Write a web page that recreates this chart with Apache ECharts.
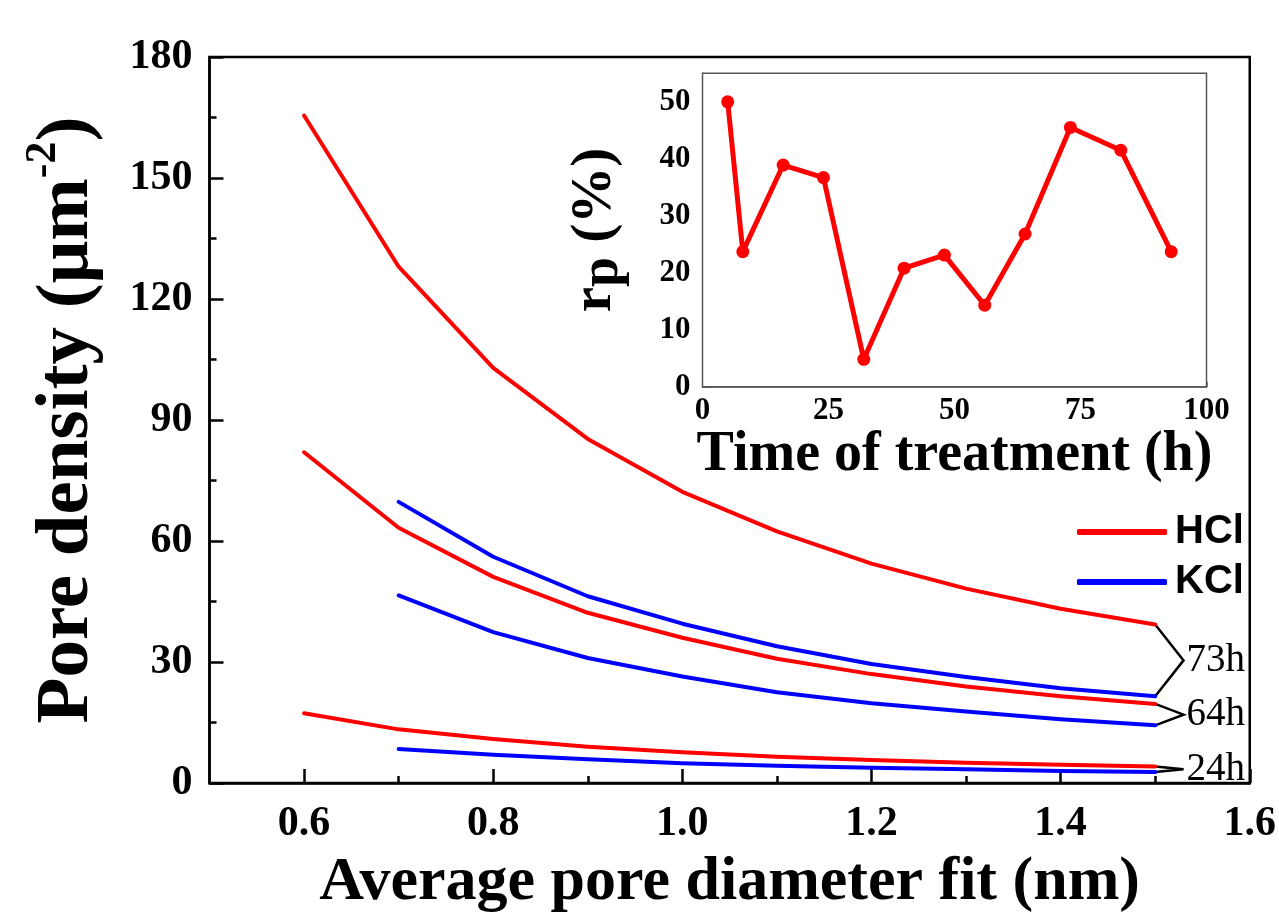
<!DOCTYPE html>
<html>
<head>
<meta charset="utf-8">
<script src="https://cdn.jsdelivr.net/npm/echarts@6/dist/echarts.min.js"></script>
<style>
  html, body { margin: 0; padding: 0; background: #fff; }
  #chart { width: 1279px; height: 919px; }
</style>
</head>
<body>
<div id="chart"></div>
<script>
// Pore density vs. average pore diameter fit, HCl and KCl treatments
const diameters = [0.6, 0.7, 0.8, 0.9, 1.0, 1.1, 1.2, 1.3, 1.4, 1.5];
const diametersKCl = [0.7, 0.8, 0.9, 1.0, 1.1, 1.2, 1.3, 1.4, 1.5];

const hcl73 = [165.5, 128.0, 102.9, 85.3, 72.2, 62.4, 54.4, 48.2, 43.2, 39.3];
const hcl64 = [82.0, 63.3, 51.1, 42.2, 36.0, 30.8, 27.0, 23.9, 21.5, 19.6];
const hcl24 = [17.3, 13.3, 10.9, 9.0, 7.6, 6.5, 5.7, 5.0, 4.5, 4.1];
const kcl73 = [69.7, 56.1, 46.3, 39.5, 33.9, 29.5, 26.3, 23.5, 21.5];
const kcl64 = [46.5, 37.4, 31.0, 26.4, 22.5, 19.8, 17.7, 15.8, 14.3];
const kcl24 = [8.4, 7.0, 5.9, 4.9, 4.3, 3.8, 3.4, 3.0, 2.7];

const bracketLabels = ['73h', '64h', '24h'];

// Inset: r_p against treatment time
const hours = [5, 8, 16, 24, 32, 40, 48, 56, 64, 73, 83, 93];
const rp = [50.0, 23.7, 38.9, 36.7, 4.8, 20.8, 23.1, 14.3, 26.8, 45.5, 41.5, 23.7];

// Tick positions
const mainXMajor = [0.6, 0.8, 1.0, 1.2, 1.4, 1.6];
const mainXMinor = [0.7, 0.9, 1.1, 1.3, 1.5];
const insetYMajor = [0, 10, 20, 30, 40, 50];
const insetYMinor = [5, 15, 25, 35, 45];

const SERIF = '"Liberation Serif", "Times New Roman", serif';
const SANS = '"Liberation Sans", Arial, sans-serif';
const RED = '#ff0000';
const BLUE = '#0000ff';

function pairs(xs, ys) { return xs.map((x, i) => [x, ys[i]]); }

function curve(name, xs, ys, color) {
  return {
    name: name, type: 'line', xAxisIndex: 0, yAxisIndex: 0,
    data: pairs(xs, ys), showSymbol: false, symbol: 'none',
    lineStyle: { color: color, width: 4, cap: 'round', join: 'round' },
    itemStyle: { color: color },
    silent: true, animation: false, z: 3
  };
}

// Bracket joining the end of an HCl curve and a KCl curve, with its time label at the tip
const TIP_DX = 0.03;
function bracket(label, hclVals, kclVals) {
  const xEnd = diameters[diameters.length - 1];
  const a = hclVals[hclVals.length - 1];
  const b = kclVals[kclVals.length - 1];
  return {
    name: label, type: 'line', xAxisIndex: 0, yAxisIndex: 0,
    data: [
      { value: [xEnd, a] },
      { value: [xEnd + TIP_DX, (a + b) / 2], label: { show: true } },
      { value: [xEnd, b] }
    ],
    symbol: 'circle', symbolSize: 0.1, showSymbol: true,
    itemStyle: { color: '#000' },
    lineStyle: { color: '#000', width: 2.5, join: 'miter' },
    label: {
      show: false, position: 'right', distance: 3,
      formatter: label, color: '#000',
      fontFamily: SERIF, fontSize: 39, fontWeight: 'normal'
    },
    silent: true, animation: false, z: 2
  };
}

const tickFont = { fontFamily: SERIF, fontWeight: 'bold', color: '#000' };

const option = {
  backgroundColor: '#fff',
  animation: false,
  grid: [
    { left: 209.5, right: 27, top: 57, bottom: 136, show: true,
      borderColor: '#000', borderWidth: 2.5, backgroundColor: 'transparent' },
    { left: 702.5, right: 72.5, top: 73.3, bottom: 532.3, show: true,
      borderColor: '#555', borderWidth: 1.5, backgroundColor: '#fff', z: 5 }
  ],
  legend: {
    data: ['HCl', 'KCl'],
    orient: 'vertical', left: 1072, top: 507,
    icon: 'roundRect', itemWidth: 90, itemHeight: 6, itemGap: 10,
    textStyle: { fontFamily: SANS, fontSize: 40, fontWeight: 'bold', color: '#000', padding: [0, 0, 0, 3] },
    selectedMode: false
  },
  xAxis: [
    { gridIndex: 0, type: 'value', min: 0.5, max: 1.6,
      name: 'Average pore diameter fit (nm)', nameLocation: 'middle', nameGap: 69,
      nameTextStyle: { fontFamily: SERIF, fontWeight: 'bold', fontSize: 62, color: '#000' },
      axisLine: { show: true, lineStyle: { color: '#000', width: 2.5 } },
      axisTick: { show: true, inside: true, length: 14, customValues: mainXMajor,
                  lineStyle: { color: '#000', width: 2.5 } },
      axisLabel: { show: true, customValues: mainXMajor, margin: 20, fontSize: 42, ...tickFont,
                   formatter: v => v.toFixed(1) },
      splitLine: { show: false } },
    { gridIndex: 0, type: 'value', min: 0.5, max: 1.6, position: 'bottom',
      axisLine: { show: false },
      axisTick: { show: true, inside: true, length: 7, customValues: mainXMinor,
                  lineStyle: { color: '#000', width: 2.5 } },
      axisLabel: { show: false }, splitLine: { show: false } },
    { gridIndex: 1, type: 'value', min: 0, max: 100, interval: 25,
      name: 'Time of treatment (h)', nameLocation: 'middle', nameGap: 27,
      nameTextStyle: { fontFamily: SERIF, fontWeight: 'bold', fontSize: 56, color: '#000' },
      axisLine: { show: true, lineStyle: { color: '#555', width: 1.5 } },
      axisTick: { show: true, inside: true, length: 5, lineStyle: { color: '#555', width: 1.5 } },
      minorTick: { show: true, splitNumber: 2, length: 3, lineStyle: { color: '#555', width: 1.5 } },
      axisLabel: { show: true, margin: 9, fontSize: 31, ...tickFont },
      splitLine: { show: false }, minorSplitLine: { show: false } }
  ],
  yAxis: [
    { gridIndex: 0, type: 'value', min: 0, max: 180, interval: 30,
      name: '{t|Pore density (\u03bcm}{s|-2}{t|)}', nameLocation: 'middle', nameRotate: 90, nameGap: 104,
      nameTextStyle: {
        rich: {
          t: { fontFamily: SERIF, fontWeight: 'bold', fontSize: 75, color: '#000', lineHeight: 84, verticalAlign: 'bottom' },
          s: { fontFamily: SERIF, fontWeight: 'bold', fontSize: 44, color: '#000', lineHeight: 84, verticalAlign: 'top' }
        }
      },
      axisLine: { show: true, lineStyle: { color: '#000', width: 2.5 } },
      axisTick: { show: true, inside: true, length: 14, lineStyle: { color: '#000', width: 2.5 } },
      minorTick: { show: true, splitNumber: 2, length: 7, lineStyle: { color: '#000', width: 2.5 } },
      axisLabel: { show: true, margin: 17, fontSize: 42, ...tickFont },
      splitLine: { show: false }, minorSplitLine: { show: false } },
    { gridIndex: 1, type: 'value', min: 0, max: 55,
      name: '{r|r}{p|p}{t| (%)}', nameLocation: 'middle', nameRotate: 90, nameGap: 72,
      nameTextStyle: {
        rich: {
          r: { fontFamily: SERIF, fontWeight: 'bold', fontSize: 57, color: '#000', lineHeight: 52, verticalAlign: 'top' },
          p: { fontFamily: SERIF, fontWeight: 'bold', fontSize: 54, color: '#000', lineHeight: 64, verticalAlign: 'bottom' },
          t: { fontFamily: SERIF, fontWeight: 'bold', fontSize: 57, color: '#000', lineHeight: 58, verticalAlign: 'top' }
        }
      },
      axisLine: { show: true, lineStyle: { color: '#555', width: 1.5 } },
      axisTick: { show: true, inside: true, length: 7, customValues: insetYMajor,
                  lineStyle: { color: '#555', width: 1.5 } },
      axisLabel: { show: true, customValues: insetYMajor, margin: 12, fontSize: 31, ...tickFont },
      splitLine: { show: false } },
    { gridIndex: 1, type: 'value', min: 0, max: 55, position: 'left',
      axisLine: { show: false },
      axisTick: { show: true, inside: true, length: 4, customValues: insetYMinor,
                  lineStyle: { color: '#555', width: 1.5 } },
      axisLabel: { show: false }, splitLine: { show: false } }
  ],
  series: [
    curve('HCl', diameters, hcl73, RED),
    curve('HCl', diameters, hcl64, RED),
    curve('HCl', diameters, hcl24, RED),
    curve('KCl', diametersKCl, kcl73, BLUE),
    curve('KCl', diametersKCl, kcl64, BLUE),
    curve('KCl', diametersKCl, kcl24, BLUE),
    bracket(bracketLabels[0], hcl73, kcl73),
    bracket(bracketLabels[1], hcl64, kcl64),
    bracket(bracketLabels[2], hcl24, kcl24),
    {
      name: 'rp', type: 'line', xAxisIndex: 2, yAxisIndex: 1,
      data: pairs(hours, rp),
      symbol: 'circle', symbolSize: 13, showSymbol: true,
      lineStyle: { color: RED, width: 5, join: 'round' },
      itemStyle: { color: RED, borderWidth: 0 },
      silent: true, animation: false, z: 10
    }
  ]
};

const chart = echarts.init(document.getElementById('chart'), null, { renderer: 'canvas' });
chart.setOption(option);
</script>
</body>
</html>
